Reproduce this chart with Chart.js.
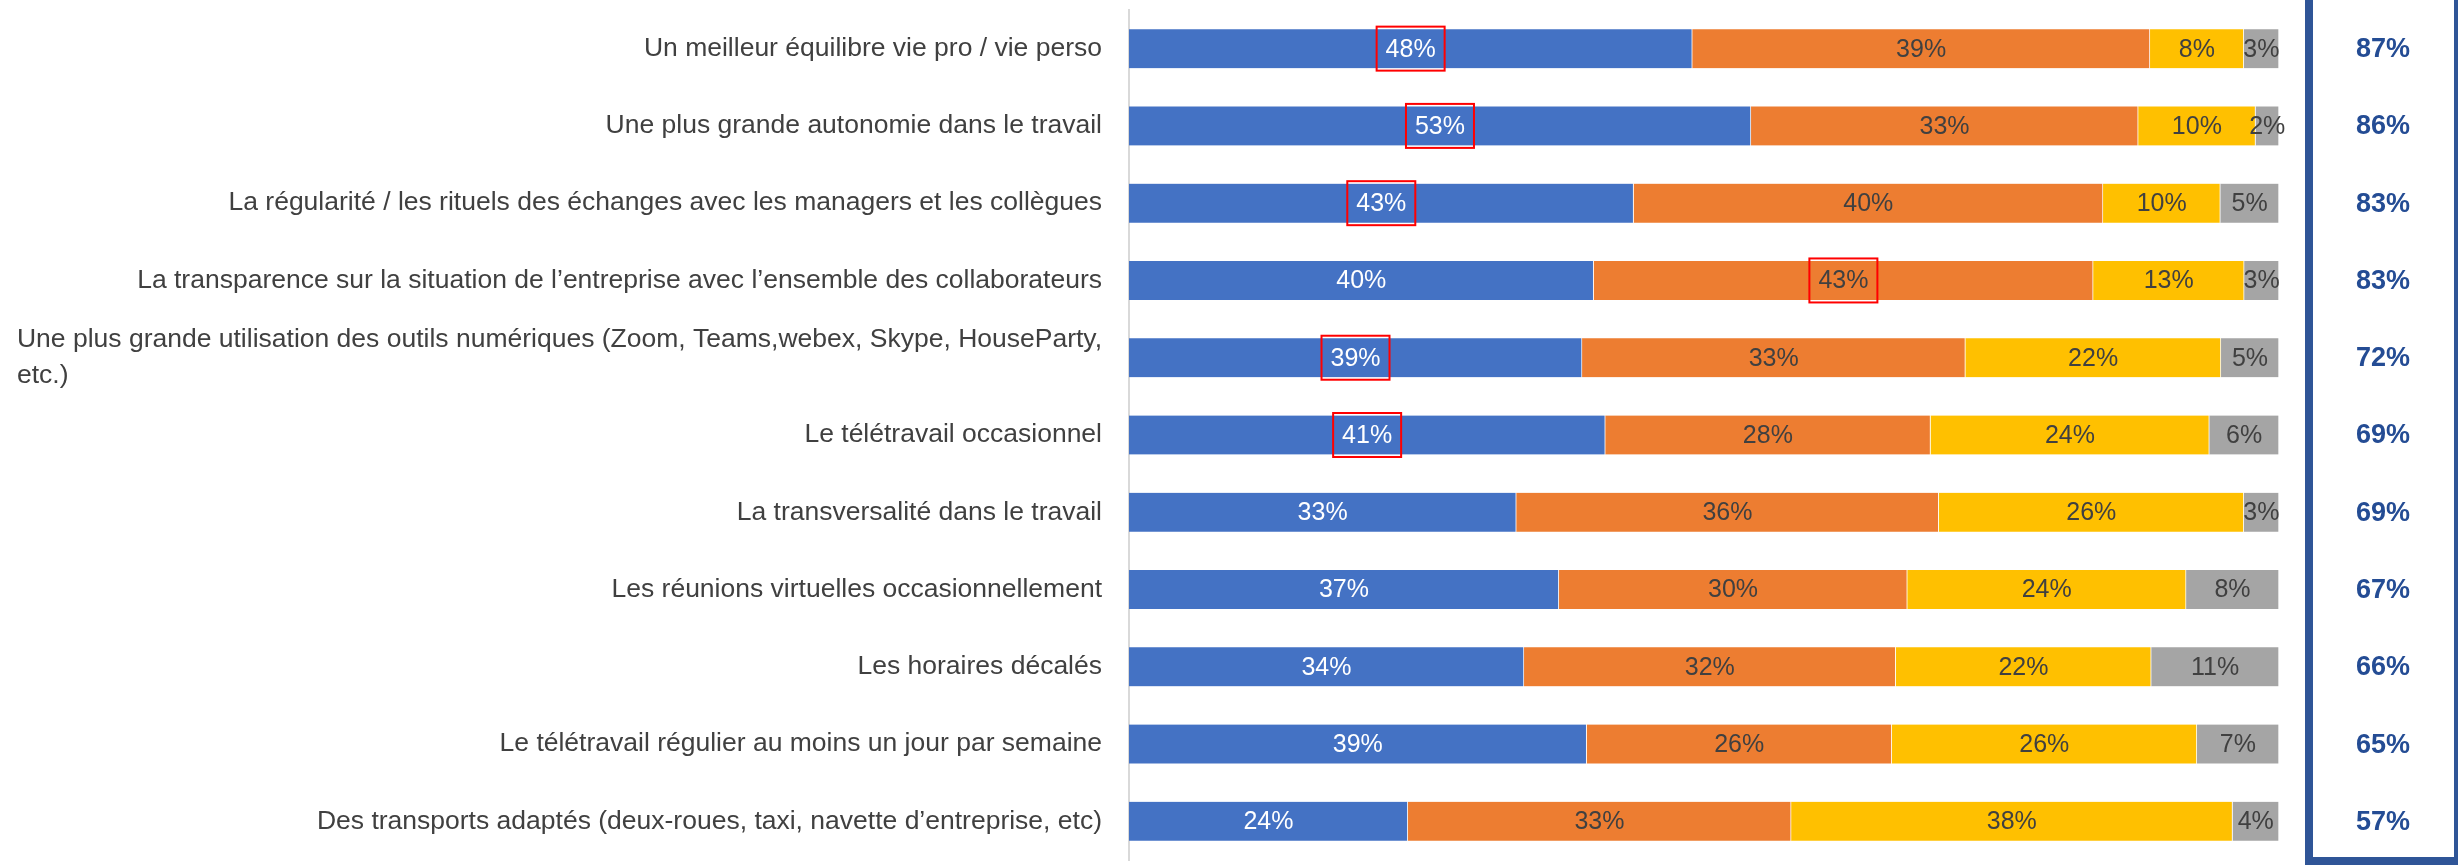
<!DOCTYPE html>
<html lang="fr">
<head>
<meta charset="utf-8">
<title>Attentes des collaborateurs</title>
<script src="https://cdn.jsdelivr.net/npm/chart.js@4.4.1/dist/chart.umd.min.js"></script>
<style>
    html, body { margin: 0; padding: 0; background: #ffffff; }
    #wrap { width: 2458px; height: 865px; position: relative; }
</style>
</head>
<body>
<div id="wrap"><canvas id="chart" width="2458" height="865"></canvas></div>
<script>
// ===== DONNÉES =====
const categories = [
    'Un meilleur équilibre vie pro / vie perso',
    'Une plus grande autonomie dans le travail',
    'La régularité / les rituels des échanges avec les managers et les collègues',
    'La transparence sur la situation de l\u2019entreprise avec l\u2019ensemble des collaborateurs',
    ['Une plus grande utilisation des outils numériques (Zoom, Teams,webex, Skype, HouseParty,', 'etc.)'],
    'Le télétravail occasionnel',
    'La transversalité dans le travail',
    'Les réunions virtuelles occasionnellement',
    'Les horaires décalés',
    'Le télétravail régulier au moins un jour par semaine',
    'Des transports adaptés (deux-roues, taxi, navette d\u2019entreprise, etc)'
];

const serie1 = [48, 53, 43, 40, 39, 41, 33, 37, 34, 39, 24];
const serie2 = [39, 33, 40, 43, 33, 28, 36, 30, 32, 26, 33];
const serie3 = [8, 10, 10, 13, 22, 24, 26, 24, 22, 26, 38];
const serie4 = [3, 2, 5, 3, 5, 6, 3, 8, 11, 7, 4];

const totals = [87, 86, 83, 83, 72, 69, 69, 67, 66, 65, 57];

// [ligne, série] des étiquettes encadrées en rouge
const highlighted = [[0, 0], [1, 0], [2, 0], [3, 1], [4, 0], [5, 0]];

const seriesValues = [serie1, serie2, serie3, serie4];
const seriesColors = ['#4472C4', '#ED7D31', '#FFC000', '#A5A5A5'];
const labelColors = ['#FFFFFF', '#404040', '#404040', '#404040'];

// ===== PLUGINS =====
// libellés des catégories (à gauche)
const categoryLabels = {
    id: 'categoryLabels',
    afterDraw(chart) {
        const ctx = chart.ctx;
        const yScale = chart.scales.y;
        const right = chart.chartArea.left - 27;
        ctx.save();
        ctx.font = '26.5px "Liberation Sans", Arial, sans-serif';
        ctx.fillStyle = '#404040';
        ctx.textBaseline = 'middle';
        categories.forEach((cat, i) => {
            const y = yScale.getPixelForValue(i);
            if (Array.isArray(cat)) {
                const w = ctx.measureText(cat[0]).width;
                const lineH = 36;
                const top = y - (cat.length - 1) * lineH / 2;
                ctx.textAlign = 'left';
                cat.forEach((line, k) => ctx.fillText(line, right - w, top + k * lineH));
            } else {
                ctx.textAlign = 'right';
                ctx.fillText(cat, right, y);
            }
        });
        ctx.restore();
    }
};

// étiquettes de valeurs + encadrés rouges
const valueLabels = {
    id: 'valueLabels',
    afterDatasetsDraw(chart) {
        const ctx = chart.ctx;
        ctx.save();
        ctx.font = '25px "Liberation Sans", Arial, sans-serif';
        ctx.textAlign = 'center';
        ctx.textBaseline = 'middle';
        chart.data.datasets.forEach((ds, d) => {
            const meta = chart.getDatasetMeta(d);
            meta.data.forEach((bar, i) => {
                const cx = (bar.x + bar.base) / 2;
                const cy = bar.y;
                ctx.fillStyle = labelColors[d];
                ctx.fillText(seriesValues[d][i] + '%', cx, cy + 1);
                if (highlighted.some(h => h[0] === i && h[1] === d)) {
                    ctx.strokeStyle = '#FF0000';
                    ctx.lineWidth = 2;
                    ctx.strokeRect(cx - 34, cy - 22, 68, 44);
                }
            });
        });
        ctx.restore();
    }
};

// colonne des totaux encadrée
const totalsColumn = {
    id: 'totalsColumn',
    afterDraw(chart) {
        const ctx = chart.ctx;
        const yScale = chart.scales.y;
        ctx.save();
        ctx.fillStyle = '#2F5597';
        ctx.fillRect(2305, 0, 8, 865);
        ctx.fillRect(2454, 0, 4, 865);
        ctx.fillRect(2305, 857, 153, 8);
        ctx.font = 'bold 27px "Liberation Sans", Arial, sans-serif';
        ctx.fillStyle = '#244C94';
        ctx.textAlign = 'center';
        ctx.textBaseline = 'middle';
        totals.forEach((t, i) => {
            ctx.fillText(t + '%', 2383, yScale.getPixelForValue(i) + 1);
        });
        ctx.restore();
    }
};

// ===== GRAPHIQUE =====
const datasets = seriesValues.map((vals, d) => ({
    label: 'Série ' + (d + 1),
    // barres empilées à 100 % (comme Excel)
    data: vals.map((v, i) => v / seriesValues.reduce((s, sv) => s + sv[i], 0) * 100),
    backgroundColor: seriesColors[d],
    borderColor: 'rgba(255,255,255,0.6)',
    borderWidth: { left: 0, right: 1, top: 0, bottom: 0 },
    borderSkipped: false,
    barThickness: 39,
    stack: 'total'
}));

new Chart(document.getElementById('chart'), {
    type: 'bar',
    data: {
        labels: categories.map(c => Array.isArray(c) ? c.join(' ') : c),
        datasets: datasets
    },
    options: {
        indexAxis: 'y',
        responsive: false,
        animation: false,
        layout: { padding: { left: 0, right: 179, top: 10, bottom: 5 } },
        plugins: {
            legend: { display: false },
            tooltip: { enabled: false }
        },
        scales: {
            x: {
                stacked: true,
                min: 0,
                max: 100,
                display: false
            },
            y: {
                stacked: true,
                ticks: { display: false },
                grid: { display: false },
                border: { display: true, color: '#D9D9D9', width: 2 },
                afterFit(scale) { scale.width = 1129; }
            }
        }
    },
    plugins: [categoryLabels, valueLabels, totalsColumn]
});
</script>
</body>
</html>
